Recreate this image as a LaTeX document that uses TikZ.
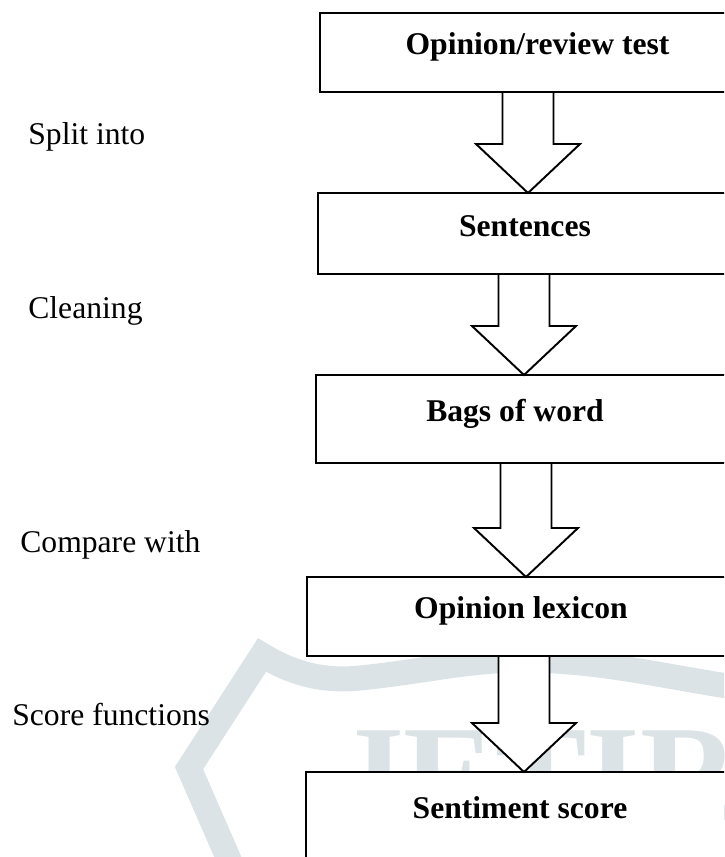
\documentclass[tikz,border=0pt]{standalone}
\usepackage{fontspec}
\setmainfont{Liberation Serif}
\usetikzlibrary{calc}
\definecolor{wmgrey}{RGB}{220,227,230}

\begin{document}
\begin{tikzpicture}[
    stepbox/.style={draw, fill=white, line width=1.1pt, outer sep=0pt, inner sep=0pt, anchor=north west},
    steptext/.style={font=\fontsize{18}{22}\selectfont\bfseries, anchor=base, inner sep=0pt},
    sidetext/.style={font=\fontsize{18}{22}\selectfont, anchor=base west, inner sep=0pt},
    bigarrow/.style={draw, fill=white, line width=1.1pt, line join=miter}
  ]
    \useasboundingbox (0,0) rectangle (14.48,-17.14);
    \clip (0,0) rectangle (14.48,-17.14);

    % Marca d'agua ao fundo
    \draw[wmgrey, line width=0.5cm, line join=miter] (4.67,-17.4) -- (3.78,-15.36) -- (5.24,-13.10)
      .. controls (5.8,-13.44) and (6.4,-13.64) .. (7.2,-13.56)
      .. controls (8.4,-13.44) and (9.4,-13.2) .. (10.4,-13.2)
      .. controls (12,-13.2) and (13.2,-13.52) .. (14.8,-13.76);
    \node[wmgrey, font=\fontsize{78}{80}\selectfont\bfseries, anchor=base west, inner sep=0pt] (wm) at (6.7,-16.4) {JETIR};

    % Caixas
    \node[stepbox, minimum width=8.4cm,  minimum height=1.58cm] (b1) at (6.4,-0.26) {};
    \node[stepbox, minimum width=8.44cm, minimum height=1.62cm] (b2) at (6.36,-3.86) {};
    \node[stepbox, minimum width=8.48cm, minimum height=1.76cm] (b3) at (6.32,-7.5) {};
    \node[stepbox, minimum width=8.66cm, minimum height=1.58cm] (b4) at (6.14,-11.54) {};
    \node[stepbox, minimum width=8.68cm, minimum height=2.2cm]  (b5) at (6.12,-15.44) {};

    % Textos das caixas
    \node[steptext] (t1) at (10.75,-1.08) {Opinion/review test};
    \node[steptext] (t2) at (10.5,-4.72) {Sentences};
    \node[steptext] (t3) at (10.3,-8.42) {Bags of word};
    \node[steptext] (t4) at (10.42,-12.36) {Opinion lexicon};
    \node[steptext] (t5) at (10.4,-16.36) {Sentiment score};

    % Setas entre as caixas
    \def\blockarrow#1#2#3{%
      \draw[bigarrow] ($(#1.south -| #3)+(-0.51,0)$)
        -- ($(#2.north -| #3)+(-0.51,0.98)$)
        -- ($(#2.north -| #3)+(-1.04,0.98)$)
        -- (#2.north -| #3)
        -- ($(#2.north -| #3)+(1.04,0.98)$)
        -- ($(#2.north -| #3)+(0.51,0.98)$)
        -- ($(#1.south -| #3)+(0.51,0)$) -- cycle;}
    \coordinate (ax1) at (10.56,0);
    \coordinate (ax2) at (10.48,0);
    \coordinate (ax3) at (10.52,0);
    \coordinate (ax4) at (10.48,0);
    \blockarrow{b1}{b2}{ax1}
    \blockarrow{b2}{b3}{ax2}
    \blockarrow{b3}{b4}{ax3}
    \blockarrow{b4}{b5}{ax4}

    % Rotulos a esquerda
    \node[sidetext] (l1) at (0.56,-2.88) {Split into};
    \node[sidetext] (l2) at (0.56,-6.36) {Cleaning};
    \node[sidetext] (l3) at (0.4,-11.04) {Compare with};
    \node[sidetext] (l4) at (0.24,-14.5) {Score functions};
  \end{tikzpicture}
\end{document}
